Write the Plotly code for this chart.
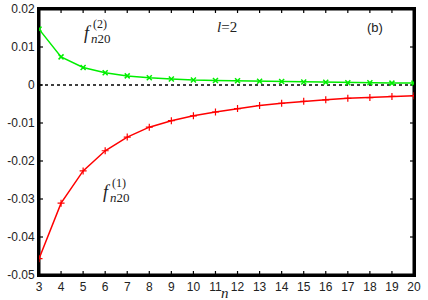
import plotly.graph_objects as go

n = list(range(3, 21))
f2 = [0.0147, 0.0074, 0.0046, 0.0032, 0.0024, 0.0019, 0.0016, 0.0013, 0.0012, 0.0011,
      0.0010, 0.0009, 0.0008, 0.0007, 0.0006, 0.0006, 0.0005, 0.0005]
f1 = [-0.0457, -0.0311, -0.0226, -0.0173, -0.0137, -0.0111, -0.0094, -0.0081, -0.0071, -0.0062,
      -0.0054, -0.0048, -0.0043, -0.0039, -0.0035, -0.0033, -0.0030, -0.0028]
zero_x = [3, 20]
zero_y = [0, 0]
x_ticks = list(range(3, 21))
y_ticks = [0.02, 0.01, 0, -0.01, -0.02, -0.03, -0.04, -0.05]
y_tick_text = ["0.02", "0.01", "0", "-0.01", "-0.02", "-0.03", "-0.04", "-0.05"]

x0, x1 = x_ticks[0], x_ticks[-1]
y0, y1 = y_ticks[-1], y_ticks[0]

fig = go.Figure()

# frame built from the axis ranges
fig.add_trace(go.Scatter(x=[x0, x1, x1, x0, x0], y=[y0, y0, y1, y1, y0], mode="lines",
                         line=dict(color="black", width=3), showlegend=False, hoverinfo="skip"))
# inside tick marks on all four sides, built from the tick arrays
dy = (y1 - y0) * 4 / 266
dx = (x1 - x0) * 4 / 375
tick_x, tick_y = [], []
for v in x_ticks[1:-1]:
    tick_x += [v, v, None, v, v, None]
    tick_y += [y0, y0 + dy, None, y1 - dy, y1, None]
for v in y_ticks[1:-1]:
    tick_x += [x0, x0 + dx, None, x1 - dx, x1, None]
    tick_y += [v, v, None, v, v, None]
fig.add_trace(go.Scatter(x=tick_x, y=tick_y, mode="lines", connectgaps=False,
                         line=dict(color="black", width=1.2), showlegend=False, hoverinfo="skip"))

fig.add_trace(go.Scatter(x=zero_x, y=zero_y, mode="lines",
                         line=dict(color="black", width=1.5, dash="3px,3px"), showlegend=False))
fig.add_trace(go.Scatter(x=n, y=f2, mode="lines+markers",
                         line=dict(color="#00ee00", width=1.5),
                         marker=dict(symbol="x-thin-open", size=5, color="#00ee00",
                                     line=dict(color="#00ee00", width=1.5)),
                         showlegend=False))
fig.add_trace(go.Scatter(x=n, y=f1, mode="lines+markers",
                         line=dict(color="#ff0000", width=1.5),
                         marker=dict(symbol="cross-thin-open", size=5, color="#ff0000",
                                     line=dict(color="#ff0000", width=1.2)),
                         showlegend=False))

axis_common = dict(showline=True, linecolor="black", linewidth=2, mirror=True,
                   ticks="", showgrid=False, zeroline=False, automargin=False,
                   tickfont=dict(family="Liberation Sans", size=12, color="#222222"))

fig.update_xaxes(range=[x0, x1], tickvals=x_ticks, ticktext=[str(v) for v in x_ticks], **axis_common)
fig.update_yaxes(range=[y0, y1], tickvals=y_ticks, ticktext=y_tick_text, **axis_common)

serif = "Liberation Serif"
ann = []
# f^(2)_{n20}
ann.append(dict(x=88, y=33, text="<i>f</i>", font=dict(family=serif, size=18, color="#222222")))
ann.append(dict(x=100, y=24, text="(2)", font=dict(family=serif, size=12, color="#222222")))
ann.append(dict(x=101, y=38, text="<i>n</i>20", font=dict(family=serif, size=13, color="#222222")))
# f^(1)_{n20}
ann.append(dict(x=107, y=192, text="<i>f</i>", font=dict(family=serif, size=18, color="#222222")))
ann.append(dict(x=119, y=183, text="(1)", font=dict(family=serif, size=12, color="#222222")))
ann.append(dict(x=120, y=197, text="<i>n</i>20", font=dict(family=serif, size=13, color="#222222")))
# l=2
ann.append(dict(x=227, y=27, text="<i>l</i>=2", font=dict(family=serif, size=15, color="#222222")))
# (b)
ann.append(dict(x=375, y=28, text="(b)", font=dict(family="Liberation Sans", size=13, color="#222222")))
# n axis label
ann.append(dict(x=225, y=293, text="<i>n</i>", font=dict(family=serif, size=15, color="#222222")))

annotations = []
for a in ann:
    a.update(xref="paper", yref="paper", showarrow=False, xanchor="center", yanchor="middle")
    px, py = a["x"], a["y"]
    a["x"] = (px - 39) / (414 - 39)
    a["y"] = (275 - py) / (275 - 9)
    annotations.append(a)

fig.update_layout(width=428, height=300, margin=dict(l=39, r=14, t=9, b=25),
                  plot_bgcolor="white", paper_bgcolor="white",
                  annotations=annotations)

fig.write_html("out.html", config={"displayModeBar": False},
               post_script="document.body.style.margin='0';document.body.style.padding='0';")
